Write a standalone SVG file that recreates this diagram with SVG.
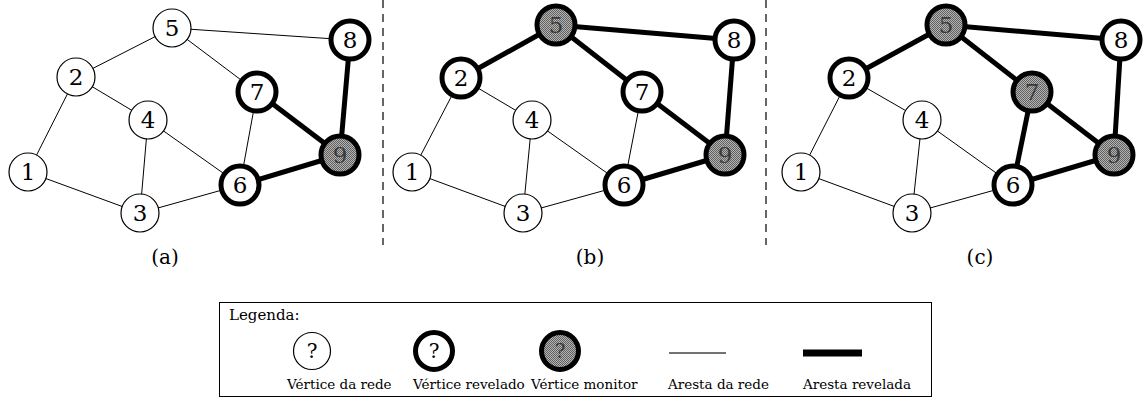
<svg xmlns="http://www.w3.org/2000/svg" width="1146" height="400" viewBox="0 0 1146 400">
  <defs>
    <!-- dithered grey used for monitor vertices -->
    <pattern id="dither" width="2" height="2" patternUnits="userSpaceOnUse">
      <rect width="2" height="2" fill="#b4b4b4"/>
      <rect width="1" height="1" fill="#606060"/>
      <rect x="1" y="1" width="1" height="1" fill="#606060"/>
    </pattern>
  </defs>
  <style>
    .e { stroke: #000; stroke-width: 1; fill: none; }
    .E { stroke: #000; stroke-width: 5; fill: none; }
    .n circle { fill: #fff; stroke: #000; stroke-width: 1.2; }
    .r circle { fill: #fff; stroke: #000; stroke-width: 5; }
    .m circle { fill: url(#dither); stroke: #000; stroke-width: 5; }
    text { font-family: "DejaVu Serif", "Liberation Serif", serif; fill: #000; }
    .lbl { font-size: 23px; text-anchor: middle; dominant-baseline: central; }
    .m .lbl { fill: #3a3a3a; }
    .q { font-size: 20px; text-anchor: middle; dominant-baseline: central; }
    .m .q { fill: #3a3a3a; }
    .cap { font-size: 20px; text-anchor: middle; }
    .leg { font-size: 13.5px; }
    .sep { stroke: #000; stroke-width: 1.2; stroke-dasharray: 8 6; }
  </style>

  <!-- panel separators -->
  <g id="separators">
    <line class="sep" x1="383" y1="0" x2="383" y2="245"/>
    <line class="sep" x1="766" y1="0" x2="766" y2="245"/>
  </g>

  <!-- connectors -->
  <g id="connectors">
    <!-- panel a -->
    <line class="e" x1="28" y1="172" x2="76" y2="77"/>
    <line class="e" x1="28" y1="172" x2="140" y2="213"/>
    <line class="e" x1="76" y1="77" x2="172" y2="28"/>
    <line class="e" x1="76" y1="77" x2="148" y2="120"/>
    <line class="e" x1="172" y1="28" x2="350" y2="40"/>
    <line class="e" x1="172" y1="28" x2="257" y2="92"/>
    <line class="e" x1="148" y1="120" x2="140" y2="213"/>
    <line class="e" x1="148" y1="120" x2="240" y2="185"/>
    <line class="e" x1="140" y1="213" x2="240" y2="185"/>
    <line class="e" x1="257" y1="92" x2="240" y2="185"/>
    <line class="E" x1="257" y1="92" x2="340" y2="155"/>
    <line class="E" x1="350" y1="40" x2="340" y2="155"/>
    <line class="E" x1="240" y1="185" x2="340" y2="155"/>
    <!-- panel b -->
    <line class="e" x1="412" y1="172" x2="461" y2="78"/>
    <line class="e" x1="412" y1="172" x2="523" y2="213"/>
    <line class="e" x1="461" y1="78" x2="532" y2="120"/>
    <line class="e" x1="532" y1="120" x2="523" y2="213"/>
    <line class="e" x1="532" y1="120" x2="624" y2="185"/>
    <line class="e" x1="523" y1="213" x2="624" y2="185"/>
    <line class="e" x1="642" y1="92" x2="624" y2="185"/>
    <line class="E" x1="461" y1="78" x2="556" y2="25"/>
    <line class="E" x1="556" y1="25" x2="734" y2="40"/>
    <line class="E" x1="556" y1="25" x2="642" y2="92"/>
    <line class="E" x1="642" y1="92" x2="725" y2="155"/>
    <line class="E" x1="734" y1="40" x2="725" y2="155"/>
    <line class="E" x1="624" y1="185" x2="725" y2="155"/>
    <!-- panel c -->
    <line class="e" x1="801" y1="172" x2="849" y2="78"/>
    <line class="e" x1="801" y1="172" x2="912" y2="213"/>
    <line class="e" x1="849" y1="78" x2="922" y2="120"/>
    <line class="e" x1="922" y1="120" x2="912" y2="213"/>
    <line class="e" x1="922" y1="120" x2="1013" y2="185"/>
    <line class="e" x1="912" y1="213" x2="1013" y2="185"/>
    <line class="E" x1="849" y1="78" x2="946" y2="25"/>
    <line class="E" x1="946" y1="25" x2="1121" y2="40"/>
    <line class="E" x1="946" y1="25" x2="1032" y2="92"/>
    <line class="E" x1="1032" y1="92" x2="1114" y2="155"/>
    <line class="E" x1="1032" y1="92" x2="1013" y2="185"/>
    <line class="E" x1="1121" y1="40" x2="1114" y2="155"/>
    <line class="E" x1="1013" y1="185" x2="1114" y2="155"/>
  </g>

  <!-- panel a nodes -->
  <g id="a1" class="n"><circle cx="28" cy="172" r="19"/><text class="lbl" x="28" y="172">1</text></g>
  <g id="a2" class="n"><circle cx="76" cy="77" r="19"/><text class="lbl" x="76" y="77">2</text></g>
  <g id="a3" class="n"><circle cx="140" cy="213" r="19"/><text class="lbl" x="140" y="213">3</text></g>
  <g id="a4" class="n"><circle cx="148" cy="120" r="19"/><text class="lbl" x="148" y="120">4</text></g>
  <g id="a5" class="n"><circle cx="172" cy="28" r="19"/><text class="lbl" x="172" y="28">5</text></g>
  <g id="a6" class="r"><circle cx="240" cy="185" r="19"/><text class="lbl" x="240" y="185">6</text></g>
  <g id="a7" class="r"><circle cx="257" cy="92" r="19"/><text class="lbl" x="257" y="92">7</text></g>
  <g id="a8" class="r"><circle cx="350" cy="40" r="19"/><text class="lbl" x="350" y="40">8</text></g>
  <g id="a9" class="m"><circle cx="340" cy="155" r="19"/><text class="lbl" x="340" y="155">9</text></g>
  <text id="cap-a" class="cap" x="165" y="264">(a)</text>

  <!-- panel b nodes -->
  <g id="b1" class="n"><circle cx="412" cy="172" r="19"/><text class="lbl" x="412" y="172">1</text></g>
  <g id="b2" class="r"><circle cx="461" cy="78" r="19"/><text class="lbl" x="461" y="78">2</text></g>
  <g id="b3" class="n"><circle cx="523" cy="213" r="19"/><text class="lbl" x="523" y="213">3</text></g>
  <g id="b4" class="n"><circle cx="532" cy="120" r="19"/><text class="lbl" x="532" y="120">4</text></g>
  <g id="b5" class="m"><circle cx="556" cy="25" r="19"/><text class="lbl" x="556" y="25">5</text></g>
  <g id="b6" class="r"><circle cx="624" cy="185" r="19"/><text class="lbl" x="624" y="185">6</text></g>
  <g id="b7" class="r"><circle cx="642" cy="92" r="19"/><text class="lbl" x="642" y="92">7</text></g>
  <g id="b8" class="r"><circle cx="734" cy="40" r="19"/><text class="lbl" x="734" y="40">8</text></g>
  <g id="b9" class="m"><circle cx="725" cy="155" r="19"/><text class="lbl" x="725" y="155">9</text></g>
  <text id="cap-b" class="cap" x="590" y="264">(b)</text>

  <!-- panel c nodes -->
  <g id="c1" class="n"><circle cx="801" cy="172" r="19"/><text class="lbl" x="801" y="172">1</text></g>
  <g id="c2" class="r"><circle cx="849" cy="78" r="19"/><text class="lbl" x="849" y="78">2</text></g>
  <g id="c3" class="n"><circle cx="912" cy="213" r="19"/><text class="lbl" x="912" y="213">3</text></g>
  <g id="c4" class="n"><circle cx="922" cy="120" r="19"/><text class="lbl" x="922" y="120">4</text></g>
  <g id="c5" class="m"><circle cx="946" cy="25" r="19"/><text class="lbl" x="946" y="25">5</text></g>
  <g id="c6" class="r"><circle cx="1013" cy="185" r="19"/><text class="lbl" x="1013" y="185">6</text></g>
  <g id="c7" class="m"><circle cx="1032" cy="92" r="19"/><text class="lbl" x="1032" y="92">7</text></g>
  <g id="c8" class="r"><circle cx="1121" cy="40" r="19"/><text class="lbl" x="1121" y="40">8</text></g>
  <g id="c9" class="m"><circle cx="1114" cy="155" r="19"/><text class="lbl" x="1114" y="155">9</text></g>
  <text id="cap-c" class="cap" x="980" y="264">(c)</text>

  <!-- legend -->
  <g id="legend">
    <rect x="219.5" y="302.5" width="712" height="94" fill="#fff" stroke="#000" stroke-width="1"/>
    <text x="229" y="320" font-size="15px">Legenda:</text>
    <g class="n"><circle cx="312" cy="351" r="18.5"/><text class="q" x="312" y="351">?</text></g>
    <g class="r"><circle cx="434" cy="351" r="18.5"/><text class="q" x="434" y="351">?</text></g>
    <g class="m"><circle cx="560" cy="351" r="18.5"/><text class="q" x="560" y="351">?</text></g>
    <line x1="669" y1="353" x2="726" y2="353" stroke="#444" stroke-width="1.5"/>
    <line x1="803" y1="353" x2="862" y2="353" stroke="#000" stroke-width="7"/>
    <text class="leg" x="287" y="389">Vértice da rede</text>
    <text class="leg" x="413" y="389">Vértice revelado</text>
    <text class="leg" x="531" y="389">Vértice monitor</text>
    <text class="leg" x="668" y="389">Aresta da rede</text>
    <text class="leg" x="803" y="389">Aresta revelada</text>
  </g>
</svg>
